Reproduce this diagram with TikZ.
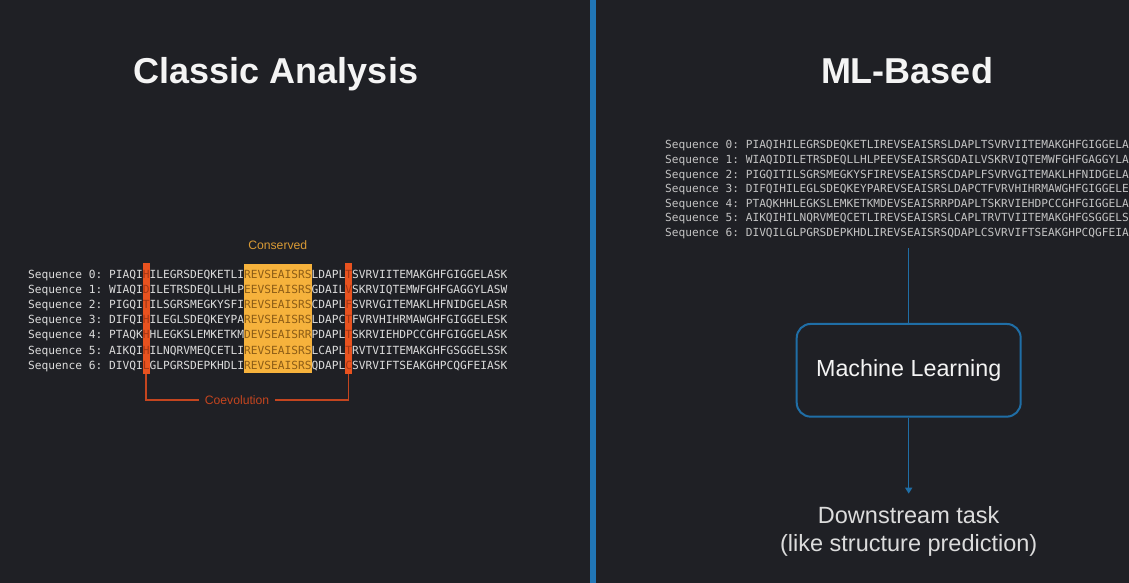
\documentclass[tikz,border=0pt]{standalone}
\usepackage{fontspec}
\setmainfont{Liberation Sans}
\newfontfamily\seqfont{DejaVu Sans Mono}
\usepackage{tikz}
\usetikzlibrary{arrows.meta,positioning}
\frenchspacing

\definecolor{bgdark}{HTML}{1F2025}
\definecolor{titlewhite}{HTML}{F4F4F4}
\definecolor{seqlight}{HTML}{DCDCDC}
\definecolor{seqdim}{HTML}{C4C4C4}
\definecolor{consfill}{HTML}{F6B23C}
\definecolor{constext}{HTML}{8C5C16}
\definecolor{constag}{HTML}{D99A35}
\definecolor{covfill}{HTML}{E8521F}
\definecolor{covtext}{HTML}{A33614}
\definecolor{covline}{HTML}{C4451F}
\definecolor{mlblue}{HTML}{1F6EA6}
\definecolor{divblue}{HTML}{2176B6}

\newcommand{\covres}[1]{\textcolor{covtext}{#1}}
\newcommand{\consres}[1]{\textcolor{constext}{#1}}

\begin{document}
\begin{tikzpicture}[
  x=1pt, y=-1pt,
  title/.style={font=\fontsize{36}{40}\selectfont\bfseries, text=titlewhite, anchor=base},
  seqline/.style={font=\seqfont\fontsize{11.21}{13}\selectfont, inner sep=0pt, anchor=base west},
  consbox/.style={fill=consfill, inner sep=0pt, minimum width=67.5pt, minimum height=109pt},
  covbar/.style={fill=covfill, inner sep=0pt, minimum width=7pt, minimum height=111pt},
  tag/.style={font=\fontsize{12.2}{14}\selectfont, inner sep=0pt},
  covlink/.style={draw=covline, line width=1.4pt},
  mlbox/.style={draw=mlblue, line width=2pt, rounded corners=14pt, minimum width=224pt, minimum height=92.7pt, font=\fontsize{23.3}{28}\selectfont, text=titlewhite},
  mlflow/.style={draw=mlblue, line width=1.4pt},
  tasktext/.style={font=\fontsize{23.5}{28}\selectfont, text=seqlight, align=center, inner sep=0pt}
]
\useasboundingbox[fill=bgdark] (0,0) rectangle (1129,583);
\draw[divblue, line width=5.5pt] (593,0) -- (593,583);

% Classic side: highlights first, sequences on top
\node[title] (classic) at (276,84) {Classic Analysis};
\node[consbox] (cons) at (277.75,318.5) {};
\node[covbar] (covA) at (146.1,318.5) {};
\node[covbar] (covB) at (348.6,318.5) {};
\node[seqline, text=seqlight] (seqA0) at (28,278) {Sequence 0: PIAQI\covres{H}ILEGRSDEQKETLI\consres{REVSEAISRS}LDAPL\covres{T}SVRVIITEMAKGHFGIGGELASK};
\node[seqline, text=seqlight] (seqA1) at (28,293.2) {Sequence 1: WIAQI\covres{D}ILETRSDEQLLHLP\consres{EEVSEAISRS}GDAIL\covres{V}SKRVIQTEMWFGHFGAGGYLASW};
\node[seqline, text=seqlight] (seqA2) at (28,308.4) {Sequence 2: PIGQI\covres{T}ILSGRSMEGKYSFI\consres{REVSEAISRS}CDAPL\covres{F}SVRVGITEMAKLHFNIDGELASR};
\node[seqline, text=seqlight] (seqA3) at (28,323.6) {Sequence 3: DIFQI\covres{H}ILEGLSDEQKEYPA\consres{REVSEAISRS}LDAPC\covres{T}FVRVHIHRMAWGHFGIGGELESK};
\node[seqline, text=seqlight] (seqA4) at (28,338.8) {Sequence 4: PTAQK\covres{H}HLEGKSLEMKETKM\consres{DEVSEAISRR}PDAPL\covres{T}SKRVIEHDPCCGHFGIGGELASK};
\node[seqline, text=seqlight] (seqA5) at (28,354) {Sequence 5: AIKQI\covres{H}ILNQRVMEQCETLI\consres{REVSEAISRS}LCAPL\covres{T}RVTVIITEMAKGHFGSGGELSSK};
\node[seqline, text=seqlight] (seqA6) at (28,369.2) {Sequence 6: DIVQI\covres{L}GLPGRSDEPKHDLI\consres{REVSEAISRS}QDAPL\covres{C}SVRVIFTSEAKGHPCQGFEIASK};
\node[tag, text=constag, above=14pt of cons] (constag) {Conserved};
\node[tag, text=covline, inner sep=6pt] (coev) at (237,400) {Coevolution};
\draw[covlink] (covA.south) |- (coev.west);
\draw[covlink] (coev.east) -| (covB.south);

% ML side
\node[title] (mlbased) at (907,84) {ML-Based};
\node[seqline, text=seqdim, font=\seqfont\fontsize{11.16}{13}\selectfont] (seqB0) at (665,149) {Sequence 0: PIAQIHILEGRSDEQKETLIREVSEAISRSLDAPLTSVRVIITEMAKGHFGIGGELA};
\node[seqline, text=seqdim, font=\seqfont\fontsize{11.16}{13}\selectfont] (seqB1) at (665,163.5) {Sequence 1: WIAQIDILETRSDEQLLHLPEEVSEAISRSGDAILVSKRVIQTEMWFGHFGAGGYLA};
\node[seqline, text=seqdim, font=\seqfont\fontsize{11.16}{13}\selectfont] (seqB2) at (665,178) {Sequence 2: PIGQITILSGRSMEGKYSFIREVSEAISRSCDAPLFSVRVGITEMAKLHFNIDGELA};
\node[seqline, text=seqdim, font=\seqfont\fontsize{11.16}{13}\selectfont] (seqB3) at (665,192.5) {Sequence 3: DIFQIHILEGLSDEQKEYPAREVSEAISRSLDAPCTFVRVHIHRMAWGHFGIGGELE};
\node[seqline, text=seqdim, font=\seqfont\fontsize{11.16}{13}\selectfont] (seqB4) at (665,207) {Sequence 4: PTAQKHHLEGKSLEMKETKMDEVSEAISRRPDAPLTSKRVIEHDPCCGHFGIGGELA};
\node[seqline, text=seqdim, font=\seqfont\fontsize{11.16}{13}\selectfont] (seqB5) at (665,221.5) {Sequence 5: AIKQIHILNQRVMEQCETLIREVSEAISRSLCAPLTRVTVIITEMAKGHFGSGGELS};
\node[seqline, text=seqdim, font=\seqfont\fontsize{11.16}{13}\selectfont] (seqB6) at (665,236) {Sequence 6: DIVQILGLPGRSDEPKHDLIREVSEAISRSQDAPLCSVRVIFTSEAKGHPCQGFEIA};
\node[mlbox] (ml) at (908.7,370.3) {Machine Learning};
\node[tasktext, below=89pt of ml] (task) {Downstream task\\(like structure prediction)};
\coordinate (mlin) at (908.7,248);
\draw[mlflow] (mlin) -- (ml);
\draw[mlflow, -{Triangle[length=6pt, width=7pt]}, shorten >=13pt] (ml) -- (task);
\end{tikzpicture}
\end{document}
